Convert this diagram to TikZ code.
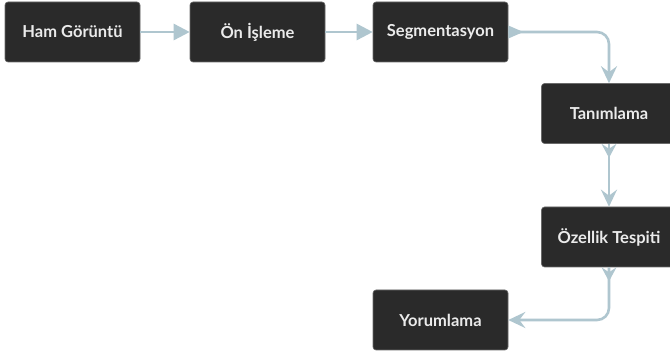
\documentclass[tikz,border=0pt]{standalone}
\usepackage{fontspec}
\setmainfont{Lato}
\usetikzlibrary{arrows.meta,calc}
\definecolor{boxfill}{HTML}{2A2A2A}
\definecolor{boxtext}{HTML}{EBEBEB}
\definecolor{conncol}{HTML}{AFC6CF}
\begin{document}
\begin{tikzpicture}[x=1pt,y=-1pt,
  stepbox/.style={draw=boxfill!70!white,line width=0.6pt,fill=boxfill,rounded corners=3pt,
    minimum width=135pt,minimum height=60pt,inner sep=0pt,
    text=boxtext,font=\bfseries\fontsize{16.5}{19}\selectfont},
  conn/.style={draw=conncol,line width=2.6pt,rounded corners=12pt},
  htip/.style={-{Triangle[length=16pt,width=16pt]}},
  vtip/.style={-{Stealth[length=17pt,width=16pt,inset=6pt]}},
  starttip/.style={fill=conncol}]
\clip (0,0) rectangle (670,355);
\fill[white] (0,0) rectangle (670,355);
\node[stepbox] (ham) at (72.5,32) {Ham Görüntü};
\node[stepbox] (on) at (257.5,32) {Ön İşleme};
\node[stepbox] (seg) at (440.5,32) {Segmentasyon};
\node[stepbox] (tan) at (609,113.5) {Tanımlama};
\node[stepbox] (oz) at (609,237) {Özellik Tespiti};
\node[stepbox] (yor) at (440.5,320) {Yorumlama};
\draw[conn,htip] (ham) -- (on);
\draw[conn,htip] (on) -- (seg);
\draw[conn,vtip] (seg.east) -| (tan.north);
\draw[conn,vtip] (tan) -- (oz);
\draw[conn,vtip] (oz.south) |- (yor.east);
\fill[starttip] ($(seg.east)+(0,-6.5)$) -- ++(15,6.5) -- ++(-15,6.5) -- cycle;
\fill[starttip] ($(tan.south)+(-7.5,0)$) -- ++(7.5,5) -- ++(7.5,-5) -- ++(-7.5,14) -- cycle;
\fill[starttip] ($(oz.south)+(-7.5,0)$) -- ++(7.5,5) -- ++(7.5,-5) -- ++(-7.5,14) -- cycle;
\end{tikzpicture}
\end{document}
